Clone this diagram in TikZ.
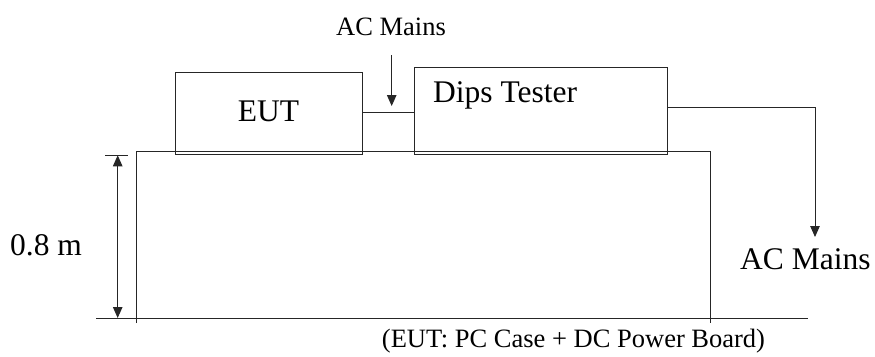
\documentclass[tikz,border=0pt]{standalone}
\usepackage{fontspec}
\setmainfont{Liberation Serif}
\usetikzlibrary{arrows.meta}
\begin{document}
\begin{tikzpicture}[x=1pt,y=-1pt,
  line/.style={line width=1pt,draw=black!85},
  box/.style={line, rectangle, inner sep=0pt},
  big/.style={font=\fontsize{31.5}{36}\selectfont, inner sep=0pt},
  small/.style={font=\fontsize{26.5}{30}\selectfont, inner sep=0pt},
  tip/.style={Triangle[length=11pt,width=9.5pt]},
  arr/.style={line,-{Triangle[length=11pt,width=9.5pt]}},
  darr/.style={line,{Triangle[length=11pt,width=9.5pt]}-{Triangle[length=11pt,width=9.5pt]}}]
\useasboundingbox (0,0) rectangle (875,356);
% table and floor
\draw[line] (136,323) -- (136,151.5) -- (710,151.5) -- (710,323);
\draw[line] (96,318) -- (808,318);
% boxes
\node[box, minimum width=187pt, minimum height=82pt] (eut) at (268.5,113) {};
\node[big] (euttext) at (268.5,111) {EUT};
\node[box, minimum width=253pt, minimum height=87pt] (dips) at (540.5,110.5) {};
\node[big, anchor=base west] (dipstext) at (433,102) {Dips Tester};
% connection between boxes
\coordinate (link) at (362,112.7);
\draw[line] (link) -- (link -| dips.west);
% top AC mains
\node[small, anchor=base] (ac1) at (391,35) {AC Mains};
\coordinate (a1s) at (391.7,55);
\coordinate (a1e) at (391.7,106);
\draw[arr] (a1s) -- (a1e);
% right AC mains
\coordinate (r0) at (667,107.3);
\coordinate (r1) at (815,107.3);
\coordinate (r2) at (815,237);
\draw[arr] (r0) -- (r1) -- (r2);
\node[big, anchor=base west] (ac2) at (740,269) {AC Mains};
% dimension
\coordinate (t1) at (105,155.3);
\coordinate (t2) at (128,155.3);
\draw[line] (t1) -- (t2);
\coordinate (d1) at (117.7,155.3);
\coordinate (d2) at (117.7,318);
\draw[darr] (d1) -- (d2);
\node[big, anchor=base west] (dim) at (10,255) {0.8 m};
% caption
\node[small, anchor=base] (cap) at (573.5,347) {(EUT: PC Case + DC Power Board)};
\end{tikzpicture}
\end{document}
